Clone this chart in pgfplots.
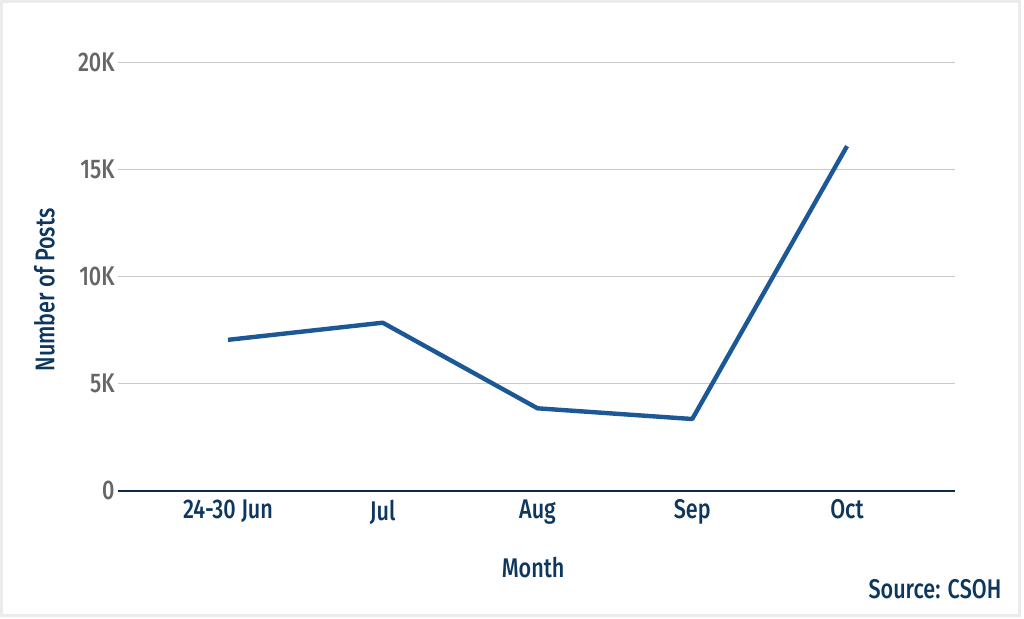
\documentclass[border=0pt]{standalone}
\usepackage{fontspec}
\setmainfont{Fira Sans}[UprightFont=* Medium, FakeStretch=0.8]
\usepackage{pgfplots}
\pgfplotsset{compat=1.18}
\definecolor{navy}{HTML}{0E3760}
\definecolor{linecol}{HTML}{1B5895}
\definecolor{tickgray}{HTML}{666666}
\definecolor{gridgray}{HTML}{C8C8C8}
\definecolor{axisnavy}{HTML}{0D2A48}
\begin{document}
\begin{tikzpicture}
\useasboundingbox (0,0) rectangle (512pt,309pt);
\fill[white] (0,0) rectangle (512pt,309pt);
\draw[black!8, line width=1.5pt] (0.9pt,1.5pt) rectangle (509.6pt,308.2pt);
\begin{axis}[
  at={(59pt,63.65pt)}, anchor=south west,
  scale only axis, width=418.5pt, height=214pt,
  xmin=-0.711, xmax=4.698, ymin=0, ymax=20000,
  axis x line=bottom, axis y line=left,
  x axis line style={axisnavy, line width=1.1pt, -},
  y axis line style={draw=none},
  xtick={0,1,2,3,4},
  xticklabels={24-30 Jun, Jul, Aug, Sep, Oct},
  ytick={0,5000,10000,15000,20000},
  yticklabels={0,5K,10K,15K,20K},
  scaled y ticks=false,
  major tick length=0pt,
  ymajorgrids, grid style={gridgray, line width=0.6pt},
  tick label style={font=\fontsize{13.5}{16}\selectfont},
  xticklabel style={navy, yshift=-1pt},
  yticklabel style={tickgray, inner sep=1.5pt},
  /pgf/number format/assume math mode=true,
  xlabel={Month}, ylabel={Number of Posts},
  label style={navy, font=\fontsize{13.5}{16}\selectfont},
  xlabel style={at={(rel axis cs:0.496,-0.18)}, anchor=center},
  ylabel style={at={(rel axis cs:-0.088,0.469)}, anchor=center, rotate=0},
  clip=false,
]
\addplot[linecol, line width=2.2pt, line join=round, no marks] coordinates {
  (0,7050) (1,7850) (2,3850) (3,3350) (4,16100)
};
\end{axis}
\node[anchor=base east, navy, font=\fontsize{13.5}{16}\selectfont, inner sep=0pt] at (500.85pt,10pt) {Source: CSOH};
\end{tikzpicture}
\end{document}
